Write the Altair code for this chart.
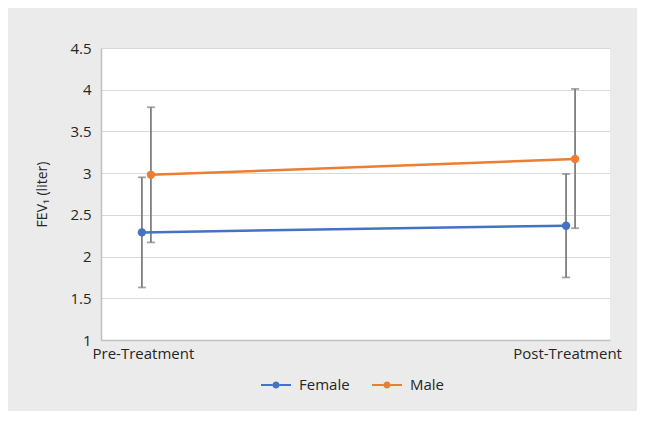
import altair as alt
import pandas as pd

categories = ["Pre-Treatment", "Post-Treatment"]
series = ["Female", "Male"]
female_mean = [2.29, 2.37]
male_mean = [2.98, 3.17]
female_low = [1.63, 1.75]
female_high = [2.95, 2.99]
male_low = [2.17, 2.34]
male_high = [3.79, 4.01]
y_ticks = [1, 1.5, 2, 2.5, 3, 3.5, 4, 4.5]
colors = ["#4472C4", "#ED7D31"]

rows = []
for i, c in enumerate(categories):
    rows.append({"cat": c, "series": "Female", "mean": female_mean[i], "low": female_low[i], "high": female_high[i]})
    rows.append({"cat": c, "series": "Male", "mean": male_mean[i], "low": male_low[i], "high": male_high[i]})
df = pd.DataFrame(rows)

FONT = "Open Sans"

LEGEND_SYMBOL = ("M-1,-0.07L-0.24,-0.07L-0.24,0.07L-1,0.07Z "
                 "M0.24,-0.07L1,-0.07L1,0.07L0.24,0.07Z "
                 "M-0.24,0A0.24,0.24 0 1,1 0.24,0A0.24,0.24 0 1,1 -0.24,0Z")

legend = alt.Legend(orient="none", legendX=160, legendY=322, direction="horizontal",
                    symbolType=LEGEND_SYMBOL, symbolSize=900, title=None,
                    symbolStrokeWidth=0, labelFontSize=15,
                    labelFont=FONT, labelColor="#262626", columnPadding=22,
                    labelOffset=8)

x_enc = alt.X("cat:N", sort=categories, title=None,
              scale=alt.Scale(type="band", paddingInner=0.9, paddingOuter=0.05),
              axis=alt.Axis(labelAngle=0, labelFontSize=15, labelColor="#262626", labelFont=FONT,
                            ticks=False, domainColor="#bfbfbf", domainWidth=1.5, labelPadding=6,
                            grid=False))
xo_enc = alt.XOffset("series:N", sort=series,
                     scale=alt.Scale(range=[15.2, 33.2], paddingInner=0, paddingOuter=0))
y_scale = alt.Scale(domain=[1, 4.5], nice=False, zero=False)
y_enc = alt.Y("mean:Q", scale=y_scale, title="FEV₁ (liter)",
              axis=alt.Axis(values=y_ticks, format=".1~f", ticks=False, domainColor="#bfbfbf",
                            domainWidth=1.5, gridColor="#d9d9d9", gridWidth=1.2,
                            labelFontSize=15, labelColor="#262626", labelFont=FONT, labelPadding=10,
                            titleFont=FONT, titleFontSize=14, titleFontWeight="normal",
                            titleColor="#262626", titlePadding=20))
color_enc = alt.Color("series:N", sort=series, scale=alt.Scale(domain=series, range=colors),
                      title=None, legend=legend)

base = alt.Chart(df)

rules = base.mark_rule(color="#7f7f7f", strokeWidth=1.8).encode(
    x=x_enc, xOffset=xo_enc, y=alt.Y("low:Q", scale=y_scale), y2="high:Q")
caps_lo = base.mark_tick(color="#7f7f7f", thickness=1.8, size=8).encode(
    x=x_enc, xOffset=xo_enc, y=alt.Y("low:Q", scale=y_scale))
caps_hi = base.mark_tick(color="#7f7f7f", thickness=1.8, size=8).encode(
    x=x_enc, xOffset=xo_enc, y=alt.Y("high:Q", scale=y_scale))
lines = base.mark_line(strokeWidth=2.5).encode(
    x=x_enc, xOffset=xo_enc, y=y_enc, color=color_enc, detail="series:N")
points = base.mark_circle(size=70, opacity=1).encode(
    x=x_enc, xOffset=xo_enc, y=y_enc, color=color_enc)

chart = alt.layer(rules, caps_lo, caps_hi, lines, points).properties(
    width=509, height=292,
    autosize=alt.AutoSizeParams(type="none"),
    padding={"left": 93, "top": 40, "right": 27, "bottom": 71},
    background="#ebebeb",
).configure_view(fill="white", stroke=None)

chart.save("out.html", embed_options={"renderer": "svg", "actions": False})
